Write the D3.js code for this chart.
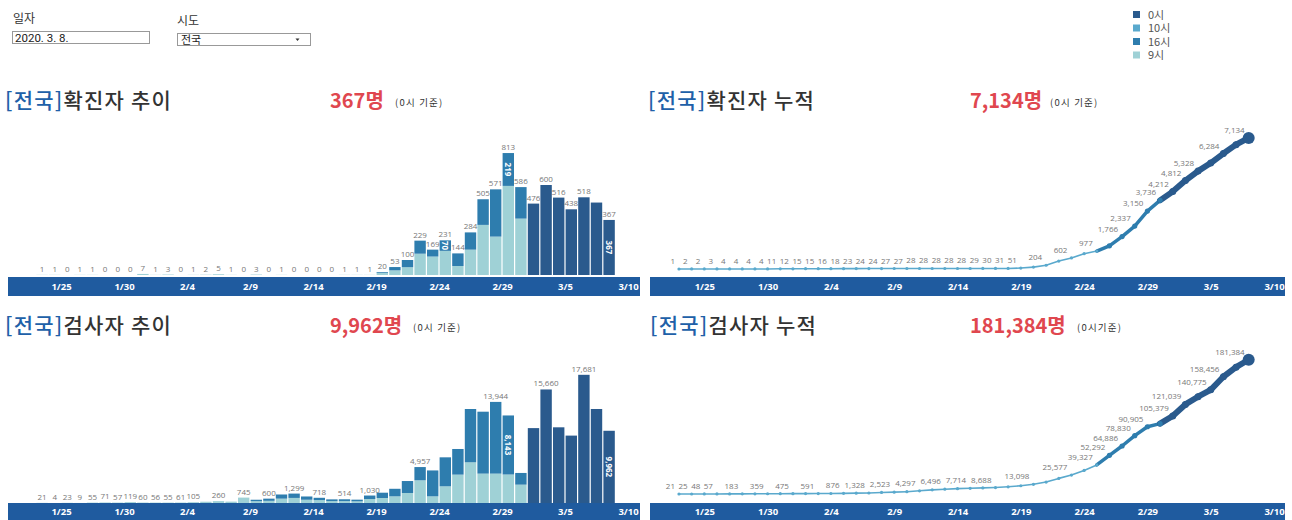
<!DOCTYPE html>
<html>
<head>
<meta charset="utf-8">
<script src="https://cdn.jsdelivr.net/npm/d3@7"></script>
<style>
body{margin:0;background:#fff;font-family:"Noto Sans CJK KR","Noto Sans",sans-serif;}
svg{display:block}
</style>
</head>
<body>
<svg id="canvas" width="1292" height="520"></svg>
<script>
// categories
var dateLabels = ['1/23','1/24','1/25','1/26','1/27','1/28','1/29','1/30','1/31',
  '2/1','2/2','2/3','2/4','2/5','2/6','2/7','2/8','2/9','2/10','2/11','2/12','2/13','2/14',
  '2/15','2/16','2/17','2/18','2/19','2/20','2/21','2/22','2/23','2/24','2/25','2/26','2/27',
  '2/28','2/29','3/1','3/2','3/3','3/4','3/5','3/6','3/7','3/8'];
var tickLabels = ['1/25','1/30','2/4','2/9','2/14','2/19','2/24','2/29','3/5','3/10'];
var seriesNames = ['0시','10시','16시','9시'];

// daily confirmed, split by report time
var conf9 = [1,1,0,1,1,0,0,0,7, 1,3,0,1,2,5,1,0,3,0,1,0,0,0,0,1,1,1,
  15,31,52,142,123,161,60,169,334,256,594,376, 0,0,0,0,0,0,0];
var conf16 = [0,0,0,0,0,0,0,0,0, 0,0,0,0,0,0,0,0,0,0,0,0,0,0,0,0,0,0,
  5,22,48,87,46,70,84,115,171,315,219,210, 0,0,0,0,0,0,0];
var conf0 = [0,0,0,0,0,0,0,0,0, 0,0,0,0,0,0,0,0,0,0,0,0,0,0,0,0,0,0,
  0,0,0,0,0,0,0,0,0,0,0,0, 476,600,516,438,518,483,367];

// daily tested, split by report time
var test9 = [21,4,23,9,55,71,57,119,60, 56,55,61,105,180,260,192,745,250,300,600,700,450,400,260,260,230,550,
  690,920,1381,3131,920,2302,3913,5617,4052,4052,3932,2532, 0,0,0,0,0,0,0];
var test16 = [0,0,0,0,0,0,0,0,0, 0,0,0,0,0,0,0,0,200,300,574,599,450,318,240,254,230,480,
  730,1040,1649,1826,3572,3998,3537,7348,8542,9892,8143,1612, 0,0,0,0,0,0,0];
var test0 = [0,0,0,0,0,0,0,0,0, 0,0,0,0,0,0,0,0,0,0,0,0,0,0,0,0,0,0,
  0,0,0,0,0,0,0,0,0,0,0,0, 10330,15660,10440,9296,17681,12966,9962];

// which bars carry a white value inside their top part
var confInner = ['2/24','2/29','3/8'];
var testInner = ['2/29','3/8'];

var colors = {'0시':'#2a5a8d','10시':'#5aa9cd','16시':'#2e7dae','9시':'#9fd1d6'};
var bandColor = '#1f5b9f';

var svg = d3.select('#canvas');

function toDate(s){
  var p = s.split('/');
  return new Date(Date.UTC(2020, +p[0]-1, +p[1]));
}
var days = dateLabels.map(toDate);
var halfDay = 12*3600*1000;

function rows(p9, p16, p0){
  return days.map(function(d,i){
    return {date:d, key:dateLabels[i], '9시':p9[i], '10시':0, '16시':p16[i], '0시':p0[i],
      total:p9[i]+p16[i]+p0[i]};
  });
}
var confRows = rows(conf9, conf16, conf0);
var testRows = rows(test9, test16, test0);

var confCum = d3.cumsum(confRows, function(d){return d.total;});
var testCum = d3.cumsum(testRows, function(d){return d.total;});

var dom = [new Date(Date.UTC(2020,0,20)), new Date(Date.UTC(2020,2,10))];
var xL = d3.scaleUtc().domain(dom).range([-2, 628]);
var xR = d3.scaleUtc().domain(dom).range([641, 1274]);

var yConf = d3.scaleLinear().domain([0,900]).range([275,140]);
var yTest = d3.scaleLinear().domain([0,20000]).range([503,358]);
var yConfCum = d3.scaleLinear().domain([0,8000]).range([269,122]);
var yTestCum = d3.scaleLinear().domain([0,200000]).range([494,346]);

// ---------- header controls ----------
svg.append('text').attr('x',13).attr('y',23).text('일자')
  .style('font-size','12px').style('fill','#333');
svg.append('rect').attr('x',12.5).attr('y',31.5).attr('width',137).attr('height',12)
  .style('fill','#fff').style('stroke','#999');
svg.append('text').attr('x',15).attr('y',41.5).text('2020. 3. 8.')
  .style('font-size','11.5px').style('fill','#222').style('font-family','Roboto, sans-serif');
svg.append('text').attr('x',177).attr('y',25).text('시도')
  .style('font-size','12px').style('fill','#333');
svg.append('rect').attr('x',177.5).attr('y',33.5).attr('width',133).attr('height',12)
  .style('fill','#fff').style('stroke','#999');
svg.append('text').attr('x',181).attr('y',43.5).text('전국')
  .style('font-size','11px').style('fill','#222');
svg.append('path').attr('d','M295.5,38.5 l4,0 l-2,2.5z').style('fill','#333');

// ---------- legend ----------
var legend = svg.append('g').attr('transform','translate(1133,11)');
seriesNames.forEach(function(s,i){
  legend.append('rect').attr('x',0).attr('y',i*13.5).attr('width',7).attr('height',7)
    .style('fill',colors[s]);
  legend.append('text').attr('x',15).attr('y',i*13.5+7.5).text(s)
    .style('font-size','11px').style('fill','#555');
});

// ---------- titles ----------
function title(x, y, name, numX, num, noteX, note){
  var t = svg.append('text').attr('x',x).attr('y',y)
    .style('font-size','21px').style('font-weight','500').style('letter-spacing','1.2px');
  t.append('tspan').text('[전국]').style('fill','#2060a8');
  t.append('tspan').text(name).style('fill','#333');
  svg.append('text').attr('x',numX).attr('y',y).text(num)
    .style('font-size','20px').style('font-weight','bold').style('fill','#e0474f');
  svg.append('text').attr('x',noteX).attr('y',y-2).text(note)
    .style('font-size','9.5px').style('fill','#333').style('letter-spacing','1.2px');
}
title(5, 108, '확진자 추이', 330, '367명', 395, '(0시 기준)');
title(648, 108, '확진자 누적', 970, '7,134명', 1050, '(0시 기준)');
title(5, 333, '검사자 추이', 330, '9,962명', 413, '(0시 기준)');
title(650, 333, '검사자 누적', 970, '181,384명', 1077, '(0시기준)');

// ---------- axis bands ----------
function band(x0, x1, top, bottom, scale){
  svg.append('rect').attr('x',x0).attr('y',top).attr('width',x1-x0).attr('height',bottom-top)
    .style('fill',bandColor);
  var ax = d3.axisBottom(scale)
    .tickValues(tickLabels.map(toDate))
    .tickFormat(d3.utcFormat('%-m/%-d'))
    .tickSize(0).tickPadding(0);
  var g = svg.append('g').attr('transform','translate(0,'+(top+(bottom-top)/2-3.5)+')').call(ax);
  g.select('.domain').remove();
  g.selectAll('text').style('fill','#fff').style('font-size','9.5px')
    .style('font-weight','bold').style('font-family','"Open Sans", sans-serif');
}
band(8, 640, 277, 296, xL);
band(650, 1285, 277, 296, xR);
band(8, 640, 503, 520, xL);
band(650, 1285, 503, 520, xR);

// ---------- label placement (skip labels that collide) ----------
function overlap(a, b){
  return a.x0 < b.x1 - 0.3 && a.x1 > b.x0 + 0.3 && a.y0 < b.y1 - 0.3 && a.y1 > b.y0 + 0.3;
}
function placeLabels(g, items, obstacles, order){
  var placed = [];
  order(items).forEach(function(it){
    var t = g.append('text').attr('x',it.x).attr('y',it.y).text(it.text)
      .attr('text-anchor',it.anchor)
      .style('font-size','8px').style('fill','#777')
      .style('font-family','"Open Sans", sans-serif');
    var b = t.node().getBBox();
    var r = {x0:b.x-0.4, x1:b.x+b.width+0.4, y0:b.y+1, y1:b.y+b.height-1};
    // glyph body only, a little narrower, for the test against bars
    var core = {x0:b.x+2, x1:b.x+b.width-2, y0:it.y-6, y1:it.y};
    var hit = placed.some(function(p){return overlap(p,r);}) ||
      obstacles.some(function(o){return o.key !== it.key && overlap(o,core);});
    if (hit) t.remove(); else placed.push(r);
  });
}
function byValue(items){
  return items.slice().sort(function(a,b){return b.v - a.v;});
}
function lastThenLeft(items){
  return [items[items.length-1]].concat(items.slice(0,-1));
}

// ---------- daily bar charts ----------
var fmt = d3.format(',');
function drawBars(data, y, inner){
  var g = svg.append('g');
  var stack = d3.stack().keys(['9시','10시','16시','0시'])(data);
  var bw = 11.4;
  stack.forEach(function(layer){
    g.selectAll(null).data(layer).enter().append('rect')
      .attr('x',function(d){return xL(+d.data.date+halfDay)-bw/2;})
      .attr('y',function(d){return y(d[1]);})
      .attr('width',bw)
      .attr('height',function(d){return Math.max(0,y(d[0])-y(d[1]));})
      .style('fill',colors[layer.key]);
  });
  // white value inside the top part
  data.forEach(function(d){
    if (inner.indexOf(d.key) < 0) return;
    var topKey = d['0시'] ? '0시' : '16시';
    var lo = d.total - d[topKey];
    var cy = (y(lo)+y(d.total))/2;
    var cx = xL(+d.date+halfDay);
    g.append('text').attr('transform','translate('+(cx-3)+','+cy+') rotate(90)')
      .attr('text-anchor','middle').text(fmt(d[topKey]))
      .style('font-size','8px').style('font-weight','bold').style('fill','#fff')
      .style('font-family','"Open Sans", sans-serif');
  });
  var obstacles = data.map(function(d){
    var cx = xL(+d.date+halfDay);
    return {key:d.key, x0:cx-bw/2, x1:cx+bw/2, y0:y(d.total), y1:y(0)};
  });
  var items = data.map(function(d){
    return {key:d.key, v:d.total, x:xL(+d.date+halfDay), y:y(d.total)-3, text:fmt(d.total), anchor:'middle'};
  });
  placeLabels(g, items, obstacles, byValue);
}
drawBars(confRows, yConf, confInner);
drawBars(testRows, yTest, testInner);

// ---------- cumulative line charts ----------
function lineCat(d){
  if (d['0시']) return '0시';
  if (d['16시'] && +d.date >= +toDate('2/26')) return '16시';
  return '10시';
}
var lineWidth = {'0시':6,'16시':3.5,'10시':1.6,'9시':1.6};
var dotR = {'0시':3.5,'16시':2.6,'10시':1.6,'9시':1.6};
function drawCum(data, cum, y){
  var g = svg.append('g');
  var pts = data.map(function(d,i){
    return {key:d.key, v:cum[i], x:xR(d.date), y:y(cum[i]), cat:lineCat(d)};
  });
  var seg = d3.line().x(function(p){return p.x;}).y(function(p){return p.y;}).curve(d3.curveMonotoneX);
  for (var i=1; i<pts.length; i++){
    g.append('path').attr('d',seg([pts[i-1],pts[i]]))
      .style('fill','none').style('stroke',colors[pts[i].cat])
      .style('stroke-width',lineWidth[pts[i].cat]).style('stroke-linecap','round');
  }
  g.selectAll('circle').data(pts).enter().append('circle')
    .attr('cx',function(p){return p.x;}).attr('cy',function(p){return p.y;})
    .attr('r',function(p,i){return i===pts.length-1 ? 6 : dotR[p.cat];})
    .style('fill',function(p){return colors[p.cat];});
  var items = pts.map(function(p){
    return {key:p.key, v:p.v, x:p.x-4, y:p.y-5, text:fmt(p.v), anchor:'end'};
  });
  placeLabels(g, items, [], lastThenLeft);
}
drawCum(confRows, confCum, yConfCum);
drawCum(testRows, testCum, yTestCum);
</script>
</body>
</html>
